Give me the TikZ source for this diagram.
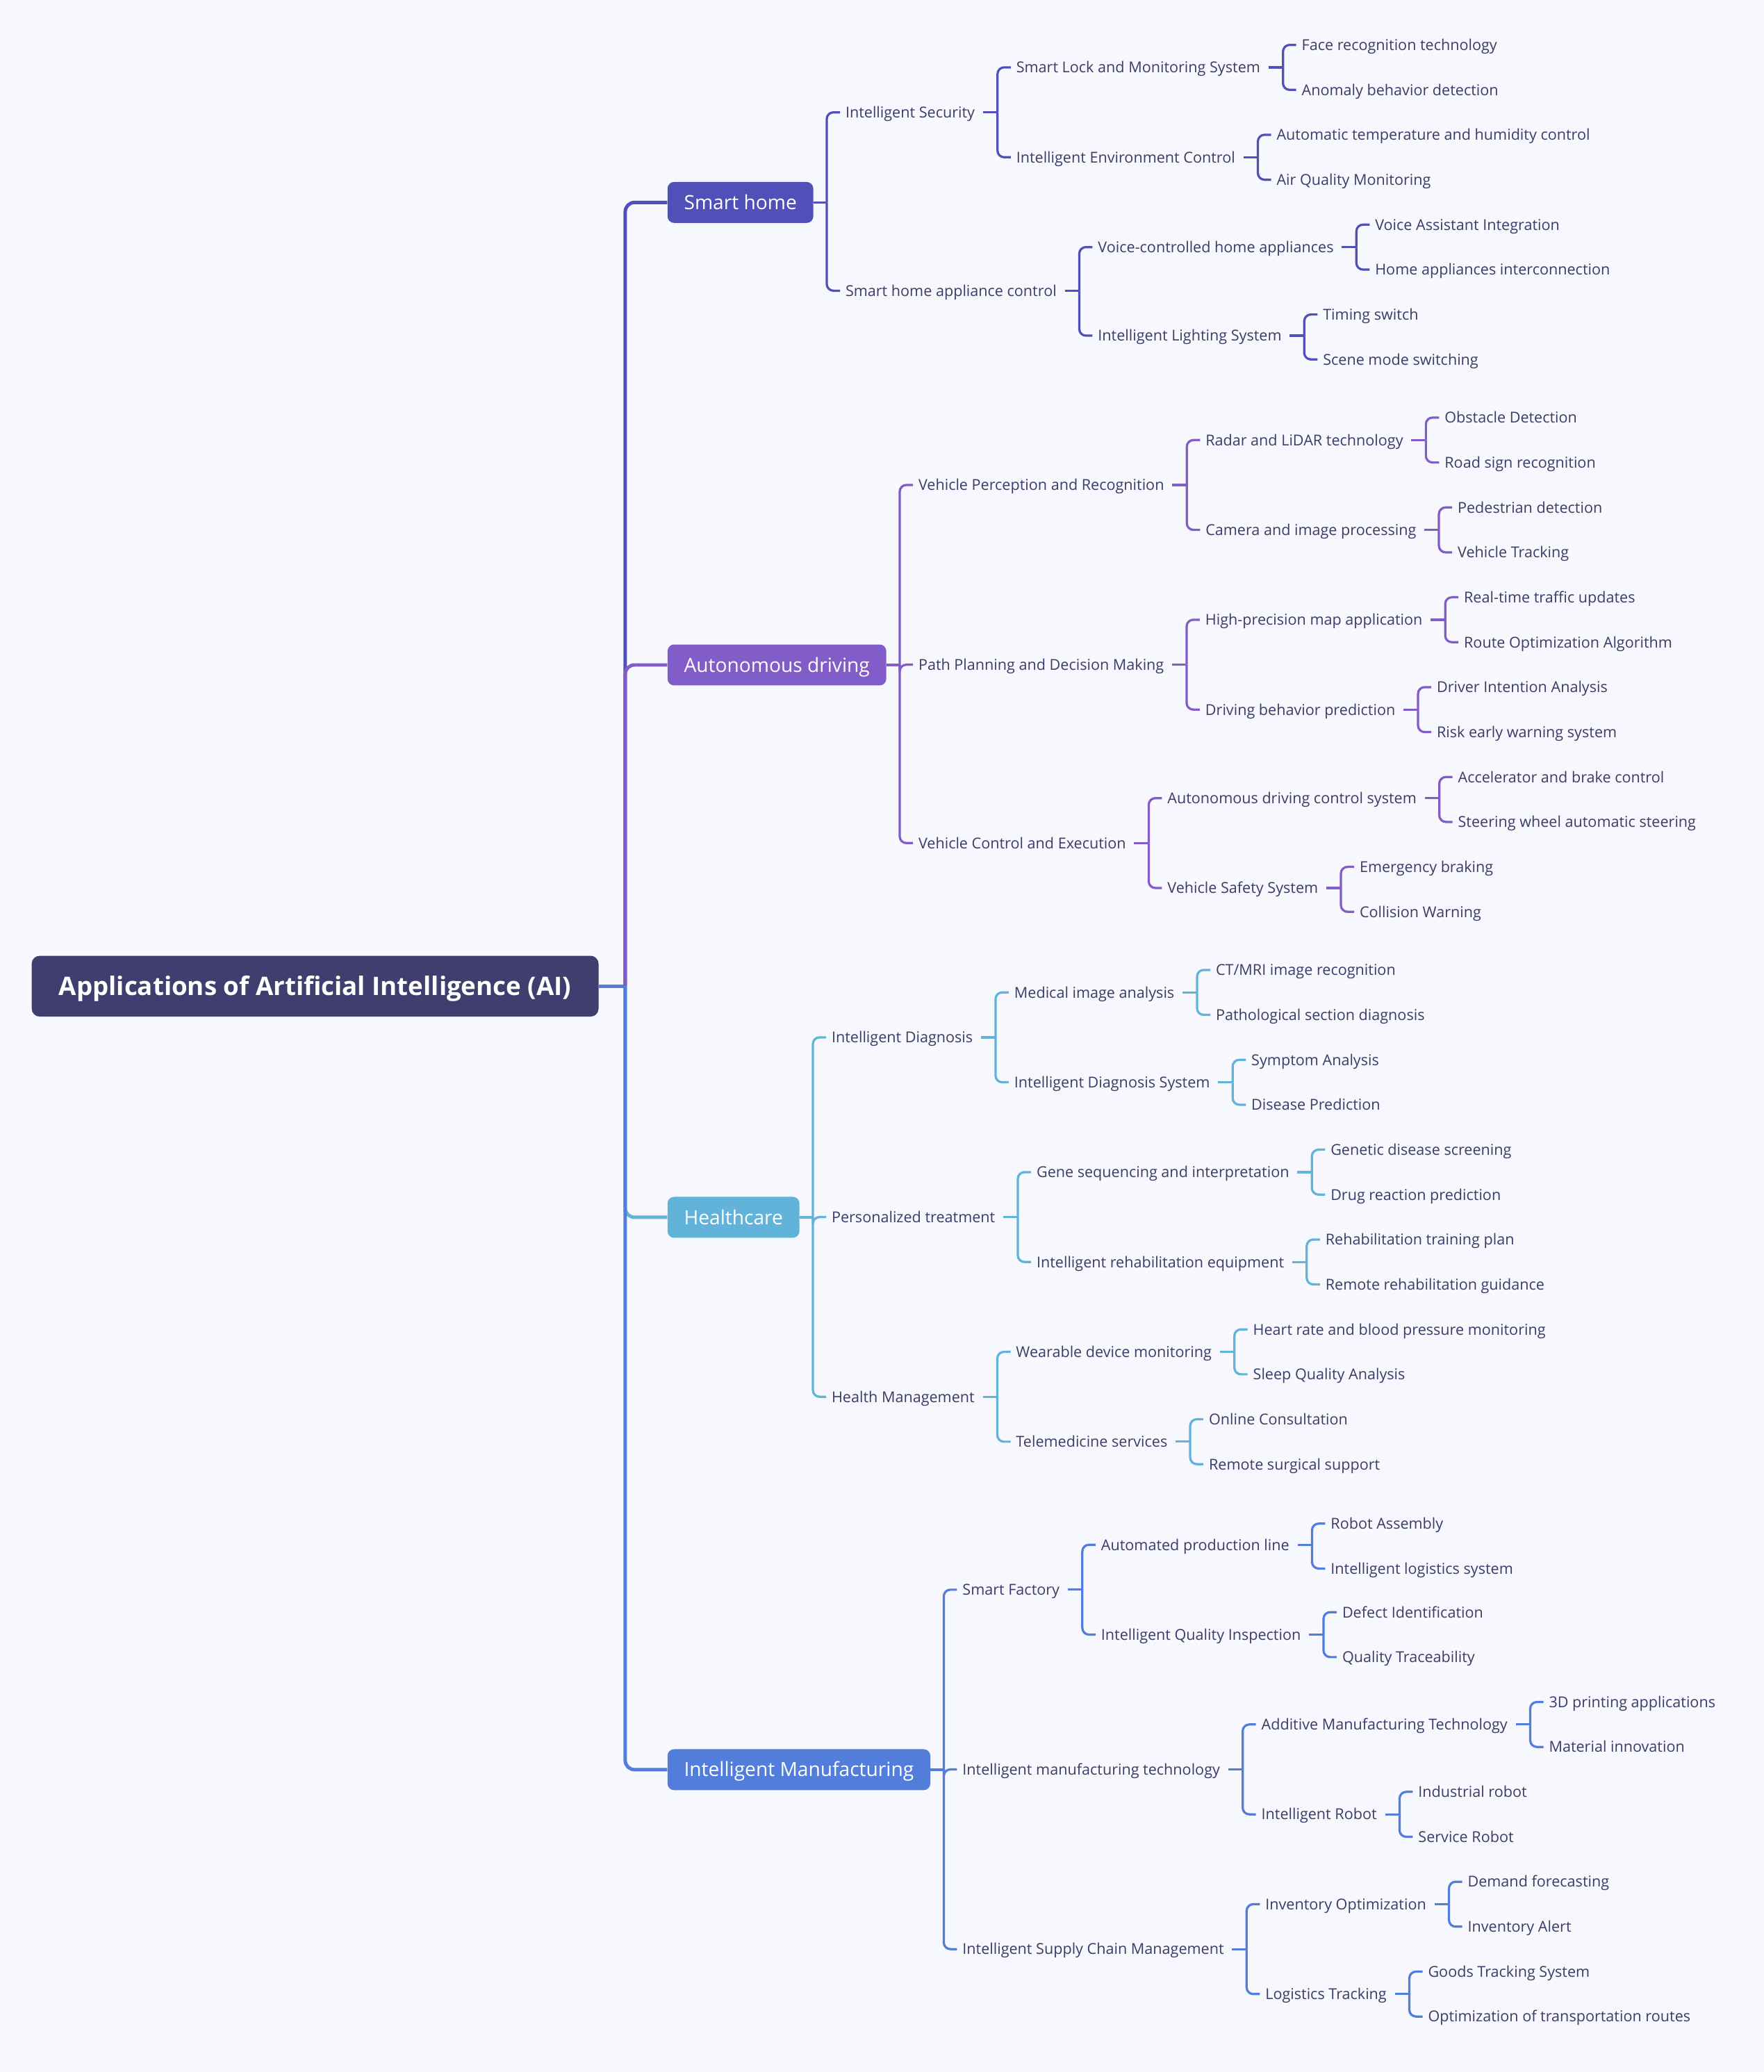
\documentclass[tikz,border=0pt]{standalone}
\usepackage{fontspec}
\setmainfont{Open Sans}
\definecolor{bg}{RGB}{247,248,253}
\definecolor{ink}{RGB}{61,59,104}
\definecolor{rootc}{RGB}{64,62,110}
\definecolor{homec}{RGB}{80,80,184}
\definecolor{autoc}{RGB}{130,92,201}
\definecolor{healthc}{RGB}{98,179,217}
\definecolor{manuc}{RGB}{82,125,218}
\tikzset{
  rootbox/.style={fill=rootc, text=white, rounded corners=6pt, minimum width=429pt, minimum height=46pt,
    inner ysep=0pt, text height=15pt, text depth=1pt, font=\fontsize{19.3}{23}\selectfont\bfseries},
  mainbox/.style={text=white, rounded corners=5pt, anchor=west, minimum height=31pt, inner xsep=12.5pt, inner ysep=0pt,
    text height=12pt, text depth=1.4pt, font=\fontsize{14.8}{17}\selectfont},
  leaf/.style={text=ink, anchor=west, inner sep=0pt, text height=9.6pt, text depth=1.4pt,
    font=\fontsize{11.35}{14}\selectfont},
  trunk/.style={line width=2.6pt},
  twig/.style={line width=1.7pt}
}
\begin{document}
\begin{tikzpicture}[x=1pt, y=-1pt]
\fill[bg] (0,0) rectangle (1335,1568);
\useasboundingbox (0,0) rectangle (1335,1568);

\node[rootbox] (root) at (238.5,746.3) {Applications of Artificial Intelligence (AI)};
\coordinate (hub) at ([xshift=20pt]root.east);

% main branches
\node[mainbox, fill=homec] (home) at (505,153.2) {Smart home};
\node[mainbox, fill=autoc] (auto) at (505,503.2) {Autonomous driving};
\node[mainbox, fill=healthc] (health) at (505,921.2) {Healthcare};
\node[mainbox, fill=manuc] (manu) at (505,1339.2) {Intelligent Manufacturing};

% smart home
\node[leaf, xshift=24pt] (hsec) at (home.east |- 0,85) {Intelligent Security};
\node[leaf, xshift=24pt] (happ) at (home.east |- 0,220) {Smart home appliance control};
\node[leaf, xshift=31pt] (hlock) at (hsec.east |- 0,51) {Smart Lock and Monitoring System};
\node[leaf, xshift=31pt] (henv) at (hsec.east |- 0,119) {Intelligent Environment Control};
\node[leaf, xshift=31pt] (hface) at (hlock.east |- 0,34) {Face recognition technology};
\node[leaf, xshift=31pt] (hanom) at (hlock.east |- 0,68) {Anomaly behavior detection};
\node[leaf, xshift=31pt] (htemp) at (henv.east |- 0,102) {Automatic temperature and humidity control};
\node[leaf, xshift=31pt] (hair) at (henv.east |- 0,136) {Air Quality Monitoring};
\node[leaf, xshift=31pt] (hvoice) at (happ.east |- 0,187) {Voice-controlled home appliances};
\node[leaf, xshift=31pt] (hlight) at (happ.east |- 0,254) {Intelligent Lighting System};
\node[leaf, xshift=31pt] (hva) at (hvoice.east |- 0,170) {Voice Assistant Integration};
\node[leaf, xshift=31pt] (hinter) at (hvoice.east |- 0,204) {Home appliances interconnection};
\node[leaf, xshift=31pt] (htime) at (hlight.east |- 0,238) {Timing switch};
\node[leaf, xshift=31pt] (hscene) at (hlight.east |- 0,272) {Scene mode switching};

% autonomous driving
\node[leaf, xshift=24pt] (aperc) at (auto.east |- 0,367) {Vehicle Perception and Recognition};
\node[leaf, xshift=24pt] (apath) at (auto.east |- 0,503) {Path Planning and Decision Making};
\node[leaf, xshift=24pt] (actrl) at (auto.east |- 0,638) {Vehicle Control and Execution};
\node[leaf, xshift=31pt] (aradar) at (aperc.east |- 0,333) {Radar and LiDAR technology};
\node[leaf, xshift=31pt] (acam) at (aperc.east |- 0,401) {Camera and image processing};
\node[leaf, xshift=31pt] (aobst) at (aradar.east |- 0,316) {Obstacle Detection};
\node[leaf, xshift=31pt] (aroad) at (aradar.east |- 0,350) {Road sign recognition};
\node[leaf, xshift=31pt] (aped) at (acam.east |- 0,384) {Pedestrian detection};
\node[leaf, xshift=31pt] (atrack) at (acam.east |- 0,418) {Vehicle Tracking};
\node[leaf, xshift=31pt] (amap) at (apath.east |- 0,469) {High-precision map application};
\node[leaf, xshift=31pt] (abeh) at (apath.east |- 0,537) {Driving behavior prediction};
\node[leaf, xshift=31pt] (atraf) at (amap.east |- 0,452) {Real-time traffic updates};
\node[leaf, xshift=31pt] (aroute) at (amap.east |- 0,486) {Route Optimization Algorithm};
\node[leaf, xshift=31pt] (adriver) at (abeh.east |- 0,520) {Driver Intention Analysis};
\node[leaf, xshift=31pt] (arisk) at (abeh.east |- 0,554) {Risk early warning system};
\node[leaf, xshift=31pt] (asys) at (actrl.east |- 0,604) {Autonomous driving control system};
\node[leaf, xshift=31pt] (asafe) at (actrl.east |- 0,672) {Vehicle Safety System};
\node[leaf, xshift=31pt] (aacc) at (asys.east |- 0,588) {Accelerator and brake control};
\node[leaf, xshift=31pt] (asteer) at (asys.east |- 0,622) {Steering wheel automatic steering};
\node[leaf, xshift=31pt] (aemerg) at (asafe.east |- 0,656) {Emergency braking};
\node[leaf, xshift=31pt] (acoll) at (asafe.east |- 0,690) {Collision Warning};

% healthcare
\node[leaf, xshift=24pt] (mdiag) at (health.east |- 0,785) {Intelligent Diagnosis};
\node[leaf, xshift=24pt] (mpers) at (health.east |- 0,921) {Personalized treatment};
\node[leaf, xshift=24pt] (mmgmt) at (health.east |- 0,1057) {Health Management};
\node[leaf, xshift=31pt] (mimg) at (mdiag.east |- 0,751) {Medical image analysis};
\node[leaf, xshift=31pt] (mdsys) at (mdiag.east |- 0,819) {Intelligent Diagnosis System};
\node[leaf, xshift=31pt] (mct) at (mimg.east |- 0,734) {CT/MRI image recognition};
\node[leaf, xshift=31pt] (mpath) at (mimg.east |- 0,768) {Pathological section diagnosis};
\node[leaf, xshift=31pt] (msym) at (mdsys.east |- 0,802) {Symptom Analysis};
\node[leaf, xshift=31pt] (mdis) at (mdsys.east |- 0,836) {Disease Prediction};
\node[leaf, xshift=31pt] (mgene) at (mpers.east |- 0,887) {Gene sequencing and interpretation};
\node[leaf, xshift=31pt] (mrehab) at (mpers.east |- 0,955) {Intelligent rehabilitation equipment};
\node[leaf, xshift=31pt] (mgscr) at (mgene.east |- 0,870) {Genetic disease screening};
\node[leaf, xshift=31pt] (mdrug) at (mgene.east |- 0,904) {Drug reaction prediction};
\node[leaf, xshift=31pt] (mrplan) at (mrehab.east |- 0,938) {Rehabilitation training plan};
\node[leaf, xshift=31pt] (mrguide) at (mrehab.east |- 0,972) {Remote rehabilitation guidance};
\node[leaf, xshift=31pt] (mwear) at (mmgmt.east |- 0,1023) {Wearable device monitoring};
\node[leaf, xshift=31pt] (mtele) at (mmgmt.east |- 0,1091) {Telemedicine services};
\node[leaf, xshift=31pt] (mheart) at (mwear.east |- 0,1006) {Heart rate and blood pressure monitoring};
\node[leaf, xshift=31pt] (msleep) at (mwear.east |- 0,1040) {Sleep Quality Analysis};
\node[leaf, xshift=31pt] (monline) at (mtele.east |- 0,1074) {Online Consultation};
\node[leaf, xshift=31pt] (msurg) at (mtele.east |- 0,1108) {Remote surgical support};

% manufacturing
\node[leaf, xshift=24pt] (ffact) at (manu.east |- 0,1203) {Smart Factory};
\node[leaf, xshift=24pt] (ftech) at (manu.east |- 0,1339) {Intelligent manufacturing technology};
\node[leaf, xshift=24pt] (fsupply) at (manu.east |- 0,1475) {Intelligent Supply Chain Management};
\node[leaf, xshift=31pt] (fline) at (ffact.east |- 0,1169) {Automated production line};
\node[leaf, xshift=31pt] (fqual) at (ffact.east |- 0,1237) {Intelligent Quality Inspection};
\node[leaf, xshift=31pt] (frobot) at (fline.east |- 0,1153) {Robot Assembly};
\node[leaf, xshift=31pt] (flog) at (fline.east |- 0,1187) {Intelligent logistics system};
\node[leaf, xshift=31pt] (fdef) at (fqual.east |- 0,1220) {Defect Identification};
\node[leaf, xshift=31pt] (ftrace) at (fqual.east |- 0,1254) {Quality Traceability};
\node[leaf, xshift=31pt] (fadd) at (ftech.east |- 0,1305) {Additive Manufacturing Technology};
\node[leaf, xshift=31pt] (frob) at (ftech.east |- 0,1373) {Intelligent Robot};
\node[leaf, xshift=31pt] (f3d) at (fadd.east |- 0,1288) {3D printing applications};
\node[leaf, xshift=31pt] (fmat) at (fadd.east |- 0,1322) {Material innovation};
\node[leaf, xshift=31pt] (find) at (frob.east |- 0,1356) {Industrial robot};
\node[leaf, xshift=31pt] (fserv) at (frob.east |- 0,1390) {Service Robot};
\node[leaf, xshift=31pt] (finv) at (fsupply.east |- 0,1441) {Inventory Optimization};
\node[leaf, xshift=31pt] (ftrk) at (fsupply.east |- 0,1509) {Logistics Tracking};
\node[leaf, xshift=31pt] (fdem) at (finv.east |- 0,1424) {Demand forecasting};
\node[leaf, xshift=31pt] (falert) at (finv.east |- 0,1458) {Inventory Alert};
\node[leaf, xshift=31pt] (fgoods) at (ftrk.east |- 0,1492) {Goods Tracking System};
\node[leaf, xshift=31pt] (froute) at (ftrk.east |- 0,1526) {Optimization of transportation routes};

% trunk: root to the four branches, later ones drawn on top
\foreach \b/\col in {home/homec, auto/autoc, health/healthc, manu/manuc}
  \draw[trunk, \col, rounded corners=7pt] (hub) |- (\b.west);
\draw[trunk, manuc] (root.east) -- (hub);

% branch boxes to their topics
\foreach \b/\c/\col in {home/hsec/homec, home/happ/homec,
    auto/aperc/autoc, auto/apath/autoc, auto/actrl/autoc,
    health/mdiag/healthc, health/mpers/healthc, health/mmgmt/healthc,
    manu/ffact/manuc, manu/ftech/manuc, manu/fsupply/manuc} {
  \draw[twig, \col] (\b.east) -- ([xshift=10pt]\b.east);
  \draw[twig, \col, rounded corners=5pt] ([xshift=10pt]\b.east) |- ([xshift=-4pt]\c.west);
}

% text topics to their subtopics
\foreach \p/\c/\col in {hsec/hlock/homec, hsec/henv/homec, hlock/hface/homec, hlock/hanom/homec,
    henv/htemp/homec, henv/hair/homec, happ/hvoice/homec, happ/hlight/homec,
    hvoice/hva/homec, hvoice/hinter/homec, hlight/htime/homec, hlight/hscene/homec,
    aperc/aradar/autoc, aperc/acam/autoc, aradar/aobst/autoc, aradar/aroad/autoc,
    acam/aped/autoc, acam/atrack/autoc, apath/amap/autoc, apath/abeh/autoc,
    amap/atraf/autoc, amap/aroute/autoc, abeh/adriver/autoc, abeh/arisk/autoc,
    actrl/asys/autoc, actrl/asafe/autoc, asys/aacc/autoc, asys/asteer/autoc,
    asafe/aemerg/autoc, asafe/acoll/autoc,
    mdiag/mimg/healthc, mdiag/mdsys/healthc, mimg/mct/healthc, mimg/mpath/healthc,
    mdsys/msym/healthc, mdsys/mdis/healthc, mpers/mgene/healthc, mpers/mrehab/healthc,
    mgene/mgscr/healthc, mgene/mdrug/healthc, mrehab/mrplan/healthc, mrehab/mrguide/healthc,
    mmgmt/mwear/healthc, mmgmt/mtele/healthc, mwear/mheart/healthc, mwear/msleep/healthc,
    mtele/monline/healthc, mtele/msurg/healthc,
    ffact/fline/manuc, ffact/fqual/manuc, fline/frobot/manuc, fline/flog/manuc,
    fqual/fdef/manuc, fqual/ftrace/manuc, ftech/fadd/manuc, ftech/frob/manuc,
    fadd/f3d/manuc, fadd/fmat/manuc, frob/find/manuc, frob/fserv/manuc,
    fsupply/finv/manuc, fsupply/ftrk/manuc, finv/fdem/manuc, finv/falert/manuc,
    ftrk/fgoods/manuc, ftrk/froute/manuc} {
  \draw[twig, \col] ([xshift=6pt]\p.east) -- ([xshift=17pt]\p.east);
  \draw[twig, \col, rounded corners=5pt] ([xshift=17pt]\p.east) |- ([xshift=-4pt]\c.west);
}
\end{tikzpicture}
\end{document}
